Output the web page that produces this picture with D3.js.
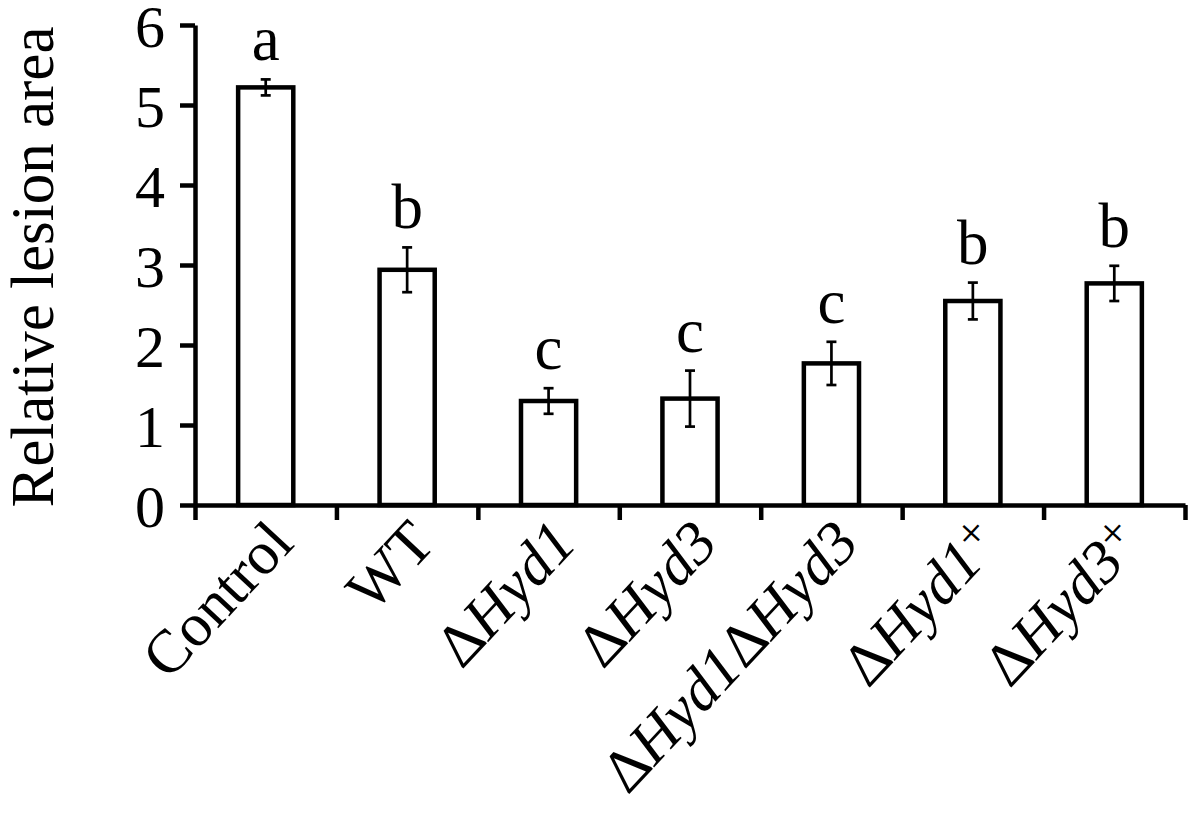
<meta charset="utf-8">
<script src="https://d3js.org/d3.v7.js"></script>
<style>
body { margin: 0; background-color: white; }
svg { background-color: white; font-family: 'Liberation Serif', 'Times New Roman', serif; }
.axis path, .axis line { stroke: black; stroke-width: 4.5px; }
.axis text { font-family: 'Liberation Serif', 'Times New Roman', serif; fill: black; }
.bars { fill: white; stroke: black; stroke-width: 4.5px; }
.errs { stroke: black; stroke-width: 2.7px; }
</style>
<html>
    <body>
        <div id="chart"></div>
        <script>
            // chart values
            var categories = ["Control", "WT", "ΔHyd1", "ΔHyd3", "ΔHyd1ΔHyd3", "ΔHyd1+", "ΔHyd3+"];
            var means = [5.22, 2.94, 1.30, 1.33, 1.77, 2.55, 2.77];
            var errors = [0.10, 0.28, 0.16, 0.35, 0.27, 0.23, 0.22];
            var letters = ["a", "b", "c", "c", "c", "b", "b"];
            var yTicks = [0, 1, 2, 3, 4, 5, 6];

            var margin = {top: 25, right: 15, bottom: 308, left: 195},
                width = 1200 - margin.left - margin.right,
                height = 813 - margin.top - margin.bottom;

            var svg = d3.select("#chart")
                .append("svg")
                    .attr("width", width + margin.left + margin.right)
                    .attr("height", height + margin.top + margin.bottom)
                .append("g")
                    .attr("transform", "translate(" + margin.left + "," + margin.top + ")");

            var rows = categories.map(function (c, i) {
                return {name: c, mean: means[i], err: errors[i], letter: letters[i]};
            });

            var x = d3.scaleBand()
                .domain(categories)
                .range([0, width])
                .padding(0);

            var edges = d3.scaleLinear()
                .domain([0, categories.length])
                .range([0, width]);

            var y = d3.scaleLinear()
                .domain([0, 6])
                .range([height, 0]);

            var barW = x.bandwidth() * 0.39;

            // bars
            svg.append("g")
                .selectAll("rect")
                .data(rows)
                .enter()
                .append("rect")
                .attr("class", "bars")
                .attr("x", function (d) { return x(d.name) + (x.bandwidth() - barW) / 2; })
                .attr("y", function (d) { return y(d.mean); })
                .attr("width", barW)
                .attr("height", function (d) { return y(0) - y(d.mean); });

            // error bars
            var err = svg.append("g").attr("class", "errs");
            err.selectAll(".stem")
                .data(rows)
                .enter()
                .append("line")
                .attr("x1", function (d) { return x(d.name) + x.bandwidth() / 2; })
                .attr("x2", function (d) { return x(d.name) + x.bandwidth() / 2; })
                .attr("y1", function (d) { return y(d.mean - d.err); })
                .attr("y2", function (d) { return y(d.mean + d.err); });
            [1, -1].forEach(function (s) {
                err.selectAll(".cap" + s)
                    .data(rows)
                    .enter()
                    .append("line")
                    .attr("x1", function (d) { return x(d.name) + x.bandwidth() / 2 - 5; })
                    .attr("x2", function (d) { return x(d.name) + x.bandwidth() / 2 + 5; })
                    .attr("y1", function (d) { return y(d.mean + s * d.err); })
                    .attr("y2", function (d) { return y(d.mean + s * d.err); });
            });

            // significance letters
            svg.append("g")
                .selectAll("text")
                .data(rows)
                .enter()
                .append("text")
                .attr("x", function (d) { return x(d.name) + x.bandwidth() / 2; })
                .attr("y", function (d) { return y(d.mean + d.err) - 19; })
                .attr("text-anchor", "middle")
                .style("font-size", "63px")
                .text(function (d) { return d.letter; });

            // X axis (ticks between categories)
            svg.append("g")
                .attr("class", "x axis")
                .attr("transform", "translate(0," + height + ")")
                .call(d3.axisBottom(edges).tickValues(d3.range(categories.length + 1)).tickFormat("").tickSize(15).tickSizeOuter(0));

            // Y axis
            var yAxis = svg.append("g")
                .attr("class", "y axis")
                .call(d3.axisLeft(y).tickValues(yTicks).tickFormat(d3.format("d")).tickSize(15).tickSizeOuter(0).tickPadding(15));
            yAxis.selectAll("text")
                .style("font-size", "60px")
                .attr("dy", "0.36em");

            // category labels, rotated
            var lab = svg.append("g")
                .selectAll("text")
                .data(rows)
                .enter()
                .append("text")
                .attr("text-anchor", "end")
                .style("font-size", "61px")
                .attr("transform", function (d) {
                    return "translate(" + (x(d.name) + x.bandwidth() / 2 + 30) + "," + (height + 40) + ") rotate(-47)";
                });
            lab.each(function (d) {
                var t = d3.select(this);
                d.name.split(/(Hyd\d|\+)/).forEach(function (part) {
                    if (part === "") return;
                    var sp = t.append("tspan").text(part);
                    if (/^Hyd/.test(part)) sp.style("font-style", "italic");
                    if (part === "+") sp.style("font-size", "46px").attr("baseline-shift", "35%");
                });
            });

            // Y axis title
            svg.append("text")
                .attr("transform", "translate(" + (53 - margin.left) + "," + (height / 2 + 2) + ") rotate(-90)")
                .attr("text-anchor", "middle")
                .style("font-size", "61px")
                .text("Relative lesion area");
        </script>
    </body>
</html>
